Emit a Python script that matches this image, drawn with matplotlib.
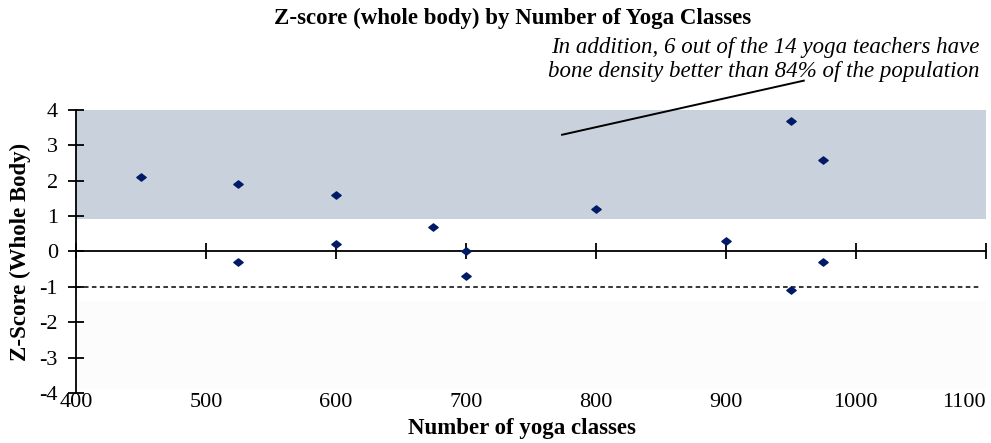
import matplotlib
matplotlib.use("Agg")
import matplotlib.pyplot as plt
from matplotlib.path import Path

classes = [450, 525, 525, 600, 600, 675, 700, 700, 800, 900, 950, 950, 975, 975]
zscores = [2.1, 1.9, -0.3, 1.6, 0.22, 0.7, 0.0, -0.7, 1.2, 0.3, 3.7, -1.1, 2.6, -0.3]
x_ticks = [400, 500, 600, 700, 800, 900, 1000, 1100]
y_ticks = [-4, -3, -2, -1, 0, 1, 2, 3, 4]
band_low, band_high = 0.93, 4.0
ref_line = -1.0

serif = ["Liberation Serif", "DejaVu Serif"]
plt.rcParams['font.family'] = serif
plt.rcParams['axes.unicode_minus'] = False

fig = plt.figure(figsize=(9.91, 4.43), dpi=100)
ax = fig.add_axes([0.0767, 0.1129, 0.918, 0.6388])
ax.set_xlim(400, 1100)
ax.set_ylim(-4, 4)

ax.axhspan(band_low, band_high, color="#c9d1dc", zorder=0, lw=0)
ax.axhspan(-3.9, -1.4, color="#fcfcfc", zorder=0, lw=0)
ax.axhline(ref_line, xmin=0, xmax=0.993, color="black", ls=(0, (3, 2.2)), lw=1.1, zorder=1)

diamond = Path([(-1, 0), (0, 0.78), (1, 0), (0, -0.78), (-1, 0)],
               [Path.MOVETO, Path.LINETO, Path.LINETO, Path.LINETO, Path.CLOSEPOLY])
ax.scatter(classes, zscores, marker=diamond, s=45, color="#001a66", zorder=3, clip_on=False)

for s in ["top", "right"]:
    ax.spines[s].set_visible(False)
ax.spines["bottom"].set_position(("data", 0))
ax.spines["left"].set_linewidth(1.3)
ax.spines["bottom"].set_linewidth(1.3)
ax.set_xticks(x_ticks)
ax.set_yticks(y_ticks)
ax.tick_params(axis="x", direction="inout", length=11, width=1.3, labelbottom=False)
ax.tick_params(axis="y", direction="inout", length=12, width=1.3, labelsize=16, pad=7)

sec = ax.secondary_xaxis(-0.0)
sec.set_xticks(x_ticks)
sec.spines["bottom"].set_visible(False)
sec.tick_params(length=0, labelsize=16, pad=0)
sec_labels = sec.get_xticklabels()
sec_labels[-1].set_horizontalalignment("right")

ax.set_xlabel("Number of yoga classes", fontsize=16.5, fontweight="bold")
ax.xaxis.set_label_coords(0.49, -0.088)
ax.set_ylabel("Z-Score (Whole Body)", fontsize=16.5, fontweight="bold")
ax.yaxis.set_label_coords(-0.05, 0.5)

fig.text(0.517, 0.958, "Z-score (whole body) by Number of Yoga Classes",
         ha="center", va="center", fontsize=16.5, fontweight="bold")

ax.text(1095, 5.42, "In addition, 6 out of the 14 yoga teachers have\nbone density better than 84% of the population",
        ha="right", va="center", fontsize=16.5, fontstyle="italic", linespacing=1.17, clip_on=False)
ax.plot([774, 960], [3.3, 4.83], color="black", lw=1.4, clip_on=False)

fig.savefig("out.png", dpi=100)
